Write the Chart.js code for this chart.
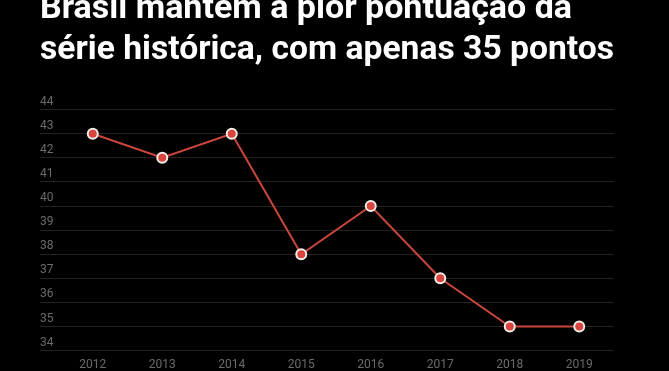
<!DOCTYPE html>
<html>
<head>
<meta charset="utf-8">
<script src="https://cdn.jsdelivr.net/npm/chart.js@4.4.1/dist/chart.umd.min.js"></script>
<style>
  html, body { margin: 0; padding: 0; background: #000; }
  #wrap { width: 669px; height: 371px; }
</style>
</head>
<body>
<div id="wrap"><canvas id="myChart"></canvas></div>
<script>
var years = ['2012', '2013', '2014', '2015', '2016', '2017', '2018', '2019'];
var pontos = [43, 42, 43, 38, 40, 37, 35, 35];
var titleLines = ['Brasil mantém a pior pontuaçao da', 'série histórica, com apenas 35 pontos'];
var yMin = 34;
var yMax = 44;

var ctx = document.getElementById('myChart').getContext('2d');
var myChart = new Chart(ctx, {
	type: 'line',
	data: {
		labels: years,
		datasets: [{
			label: 'Pontos',
			data: pontos,
			borderColor: '#c9463d',
			borderWidth: 2,
			backgroundColor: '#d9453e',
			pointBackgroundColor: '#d9453e',
			pointBorderColor: '#f4eeea',
			pointBorderWidth: 2,
			pointRadius: 5,
			pointHoverRadius: 5,
			tension: 0
		}]
	},
	options: {
		responsive: true,
		maintainAspectRatio: false,
		animation: false,
		layout: {
			padding: { left: 40, right: 55, top: -11, bottom: 0 }
		},
		plugins: {
			legend: { display: false },
			tooltip: { enabled: false },
			title: {
				display: true,
				text: titleLines,
				align: 'start',
				color: '#ffffff',
				font: { family: 'Roboto', size: 34, weight: 'bold', lineHeight: 1.2 },
				padding: { top: 0, bottom: 39 }
			}
		},
		scales: {
			x: {
				offset: true,
				grid: { display: false },
				border: { display: false },
				ticks: {
					color: '#6b6b6b',
					font: { family: 'Roboto', size: 12 },
					padding: -1,
					maxRotation: 0
				}
			},
			y: {
				min: yMin,
				max: yMax,
				border: { display: false },
				afterFit: function(scale) { scale.width = 18; },
				grid: {
					color: '#222222',
					lineWidth: 1,
					drawTicks: true,
					tickLength: 18
				},
				ticks: {
					stepSize: 1,
					mirror: true,
					padding: -18,
					labelOffset: -8,
					color: '#6b6b6b',
					font: { family: 'Roboto', size: 12 }
				}
			}
		}
	}
});
</script>
</body>
</html>
